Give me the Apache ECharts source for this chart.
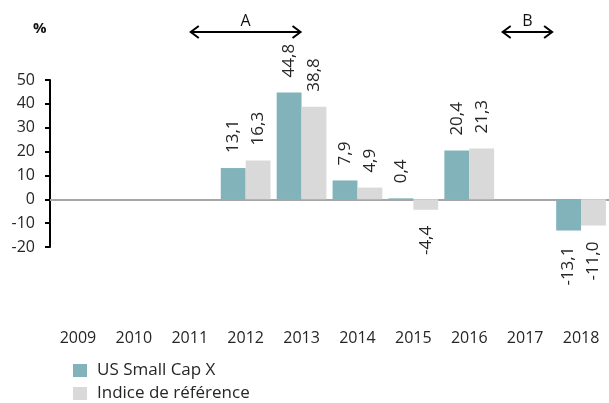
<!DOCTYPE html>
<html><head><meta charset="utf-8">
<script src="https://cdn.jsdelivr.net/npm/echarts@6/dist/echarts.min.js"></script>
<style>html,body{margin:0;padding:0;background:#fff}#c{width:609px;height:403px}</style>
</head><body><div id="c"></div>
<script>
const categories = ['2009','2010','2011','2012','2013','2014','2015','2016','2017','2018'];
const fundValues = [null,null,null,13.1,44.8,7.9,0.4,20.4,null,-13.1];
const benchValues = [null,null,null,16.3,38.8,4.9,-4.4,21.3,null,-11.0];
const seriesNames = ['US Small Cap X','Indice de référence'];
const yTicks = [-20,-10,0,10,20,30,40,50];
const annotations = [
  {text:'A', from:'2011', fromOffset:0, to:'2013', toOffset:0},
  {text:'B', from:'2016', fromOffset:0.58, to:'2017', toOffset:0.5}
];

const FONT = 'Open Sans';
const TXT = '#262626';
const fmt = v => v.toFixed(1).replace('.', ',');
function mk(vals){
  return vals.map(v => {
    if (v === null) return null;
    return {
      value: v,
      label: v >= 0
        ? {position:'top', rotate:90, align:'left', verticalAlign:'middle', distance:15}
        : {position:'bottom', rotate:90, align:'right', verticalAlign:'middle', distance:16}
    };
  });
}
const labelBase = {show:true, fontFamily:FONT, fontSize:17, color:TXT, formatter: p => fmt(p.value)};

const chart = echarts.init(document.getElementById('c'), null, {renderer:'canvas'});
chart.setOption({
  animation:false,
  grid:{left:50, top:80, width:566, height:167, containLabel:false},
  xAxis:{
    type:'category', data:categories,
    axisLine:{onZero:true, lineStyle:{color:'#a6a6a6', width:2}},
    axisTick:{show:false},
    axisLabel:{margin:83, fontFamily:FONT, fontSize:16, color:TXT}
  },
  yAxis:{
    type:'value', min:yTicks[0], max:yTicks[yTicks.length-1], interval:10,
    splitLine:{show:false},
    axisLine:{show:true, lineStyle:{color:'#000', width:2}},
    axisTick:{show:true, length:5, lineStyle:{color:'#000', width:2}},
    axisLabel:{margin:15, fontFamily:FONT, fontSize:16, color:TXT}
  },
  legend:{
    orient:'vertical', left:73, top:362, padding:0, itemWidth:14, itemHeight:13, itemGap:6,
    icon:'rect',
    textStyle:{fontFamily:FONT, fontSize:17, color:TXT, padding:[0,0,0,5]},
    data:seriesNames
  },
  title:{text:'%', left:28, top:16, textStyle:{fontFamily:FONT, fontSize:15, fontWeight:'bold', color:'#111'}},
  series:[
    {name:seriesNames[0], type:'bar', data:mk(fundValues), barGap:'0%', barCategoryGap:'11%',
     itemStyle:{color:'#82b3ba'}, label:labelBase},
    {name:seriesNames[1], type:'bar', data:mk(benchValues),
     itemStyle:{color:'#d9d9d9'}, label:labelBase}
  ]
});

const graphics = [];
const yPix = 32;
function catPix(cat, off){
  const i = categories.indexOf(cat);
  const p0 = chart.convertToPixel({xAxisIndex:0}, categories[i]);
  const p1 = chart.convertToPixel({xAxisIndex:0}, categories[Math.min(i+1, categories.length-1)]);
  const step = (i+1 < categories.length) ? (p1 - p0) : (p0 - chart.convertToPixel({xAxisIndex:0}, categories[i-1]));
  return p0 + off*step;
}
annotations.forEach(a => {
  const x1 = catPix(a.from, a.fromOffset), x2 = catPix(a.to, a.toOffset);
  const st = {stroke:'#000', lineWidth:2, fill:null};
  graphics.push({type:'line', shape:{x1:x1+1, y1:yPix, x2:x2-1, y2:yPix}, style:st});
  graphics.push({type:'polyline', shape:{points:[[x1+9,yPix-6],[x1+1,yPix],[x1+9,yPix+6]]}, style:st});
  graphics.push({type:'polyline', shape:{points:[[x2-9,yPix-6],[x2-1,yPix],[x2-9,yPix+6]]}, style:st});
  graphics.push({type:'text', x:(x1+x2)/2, y:yPix-3, style:{text:a.text, fontFamily:FONT, fontSize:16, fill:'#111', align:'center', verticalAlign:'bottom'}});
});
chart.setOption({graphic:graphics});
</script>
</body></html>
